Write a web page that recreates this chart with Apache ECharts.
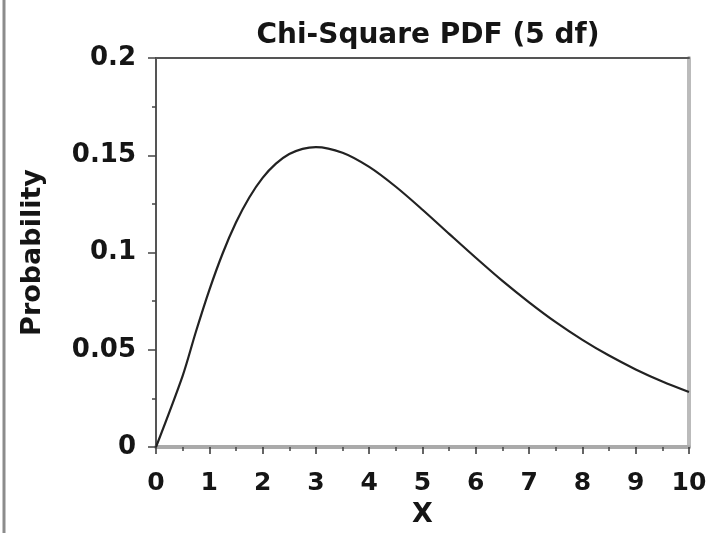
<!DOCTYPE html>
<html>
<head>
<meta charset="utf-8">
<script src="https://cdn.jsdelivr.net/npm/echarts@6/dist/echarts.min.js"></script>
<style>
  html, body { margin: 0; padding: 0; background: #fff; }
  #chart { width: 712px; height: 533px; }
</style>
</head>
<body>
<div id="chart"></div>
<script>
// Chi-square density, 5 degrees of freedom
const xValues = [0, 0.5, 0.75, 1, 1.25, 1.5, 1.75, 2, 2.25, 2.5, 2.75, 3, 3.5, 4, 4.5, 5, 5.5, 6, 6.5, 7, 7.5, 8, 8.5, 9, 9.5, 10];
const density = [0, 0.0366, 0.0594, 0.0807, 0.0995, 0.1154, 0.1283, 0.1384, 0.1457, 0.1506, 0.1533, 0.1542, 0.1513, 0.1440, 0.1338, 0.1220, 0.1096, 0.0973, 0.0854, 0.0744, 0.0642, 0.0551, 0.0470, 0.0399, 0.0337, 0.0283];
const xTicks = [0, 1, 2, 3, 4, 5, 6, 7, 8, 9, 10];
const yTicks = [0, 0.05, 0.1, 0.15, 0.2];

const titleText = 'Chi-Square PDF (5 df)';
const xName = 'X';
const yName = 'Probability';

const font = 'DejaVu Sans, sans-serif';
const chart = echarts.init(document.getElementById('chart'), null, { renderer: 'canvas' });

const points = xValues.map((x, i) => [x, density[i]]);

chart.setOption({
  animation: false,
  backgroundColor: '#fff',
  title: {
    text: titleText,
    left: 423, top: 17,
    textAlign: 'center',
    textStyle: { fontFamily: font, fontSize: 28, fontWeight: 'bold', color: '#151515' }
  },
  grid: { left: 156, right: 23, top: 58, bottom: 83, containLabel: false },
  graphic: [{
    type: 'line',
    shape: { x1: 4, y1: 0, x2: 4, y2: 533 },
    style: { stroke: '#8c8c8c', lineWidth: 3 }
  }],
  xAxis: [{
    type: 'value', min: xTicks[0], max: xTicks[xTicks.length - 1], interval: 1,
    position: 'bottom',
    name: xName, nameLocation: 'middle', nameGap: 54,
    nameTextStyle: { fontFamily: font, fontSize: 27, fontWeight: 'bold', color: '#151515' },
    axisLine: { onZero: false, lineStyle: { color: '#aaa', width: 4 } },
    axisTick: { inside: false, length: 7, lineStyle: { color: '#333', width: 1.5 } },
    minorTick: { show: true, splitNumber: 2, length: 4, lineStyle: { color: '#444', width: 1.5 } },
    axisLabel: { margin: 24, fontFamily: font, fontSize: 25, fontWeight: 'bold', color: '#151515' },
    splitLine: { show: false }
  }, {
    type: 'value', min: 0, max: 10, position: 'top',
    axisLine: { onZero: false, lineStyle: { color: '#555', width: 2 } },
    axisTick: { show: false }, axisLabel: { show: false }, splitLine: { show: false }
  }],
  yAxis: [{
    type: 'value', min: yTicks[0], max: yTicks[yTicks.length - 1], interval: 0.05,
    position: 'left',
    name: yName, nameLocation: 'middle', nameGap: 110, nameRotate: 90,
    nameTextStyle: { fontFamily: font, fontSize: 27, fontWeight: 'bold', color: '#151515' },
    axisLine: { show: true, onZero: false, lineStyle: { color: '#555', width: 2 } },
    axisTick: { show: true, inside: false, length: 8, lineStyle: { color: '#444', width: 1.5 } },
    minorTick: { show: true, splitNumber: 2, length: 4, lineStyle: { color: '#444', width: 1.5 } },
    axisLabel: {
      margin: 20, fontFamily: font, fontSize: 26, fontWeight: 'bold', color: '#151515',
      formatter: v => String(parseFloat(v.toFixed(3)))
    },
    splitLine: { show: false }
  }, {
    type: 'value', min: 0, max: 0.2, position: 'right',
    axisLine: { show: true, onZero: false, lineStyle: { color: '#bbb', width: 4 } },
    axisTick: { show: false }, axisLabel: { show: false }, splitLine: { show: false }
  }],
  series: [{
    type: 'line',
    data: points,
    smooth: 0.3,
    showSymbol: false,
    clip: true,
    lineStyle: { color: '#222', width: 2.2 }
  }]
});
</script>
</body>
</html>
